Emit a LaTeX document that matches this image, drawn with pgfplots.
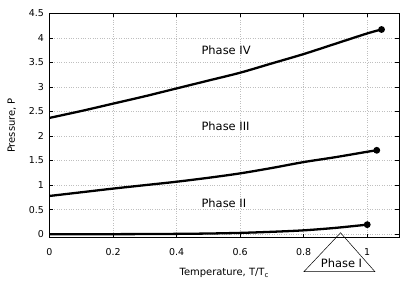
\documentclass[border=0pt]{standalone}
\usepackage{pgfplots}
\pgfplotsset{compat=1.18}
\usepackage{fontspec}
\setmainfont{DejaVu Sans}
\begin{document}
\begin{tikzpicture}
\begin{axis}[
  name=ax,
  scale only axis,
  width=349.5bp, height=224.4bp,
  xmin=0, xmax=1.1, ymin=-0.07, ymax=4.5,
  xtick={0,0.2,0.4,0.6,0.8,1},
  xticklabels={0,0.2,0.4,0.6,0.8,1},
  ytick={0,0.5,1,1.5,2,2.5,3,3.5,4,4.5},
  yticklabels={0,0.5,1,1.5,2,2.5,3,3.5,4,4.5},
  tick align=inside,
  major tick length=4bp,
  tick style={black, line width=0.6pt},
  axis line style={black, line width=0.8pt},
  grid=major,
  grid style={gray!50, line width=0.5pt, dash pattern=on 0.6pt off 1.8pt},
  xticklabel style={font=\fontsize{9.5}{11}\selectfont, yshift=-7bp},
  yticklabel style={font=\fontsize{9.5}{11}\selectfont, xshift=-2bp},
  xlabel={Temperature, T/T\textsubscript{c}},
  ylabel={Pressure, P},
  xlabel style={font=\fontsize{9.5}{11}\selectfont},
  ylabel style={font=\fontsize{9.5}{11}\selectfont},
  every axis x label/.style={at={(axis description cs:0.5,-0.157)},anchor=center},
  every axis y label/.style={at={(axis description cs:-0.108,0.5)},rotate=90,anchor=center},
  clip=false,
]
% Phase IV boundary
\addplot[black, line width=2.3pt, smooth, mark=*, mark size=2.2pt, mark indices={12}] coordinates {
(0,2.37) (0.1,2.51) (0.2,2.66) (0.3,2.81) (0.4,2.97) (0.5,3.13) (0.6,3.29)
(0.7,3.48) (0.8,3.67) (0.9,3.88) (1.0,4.09) (1.045,4.17)};
% Phase III boundary
\addplot[black, line width=2.3pt, smooth, mark=*, mark size=2.2pt, mark indices={12}] coordinates {
(0,0.78) (0.1,0.855) (0.2,0.93) (0.3,1.0) (0.4,1.07) (0.5,1.15) (0.6,1.24)
(0.7,1.35) (0.8,1.47) (0.9,1.57) (1.0,1.68) (1.03,1.71)};
% Phase II boundary
\addplot[black, line width=2.3pt, smooth, mark=*, mark size=2.2pt, mark indices={11}] coordinates {
(0,0) (0.1,0.001) (0.2,0.002) (0.3,0.004) (0.4,0.008) (0.5,0.015) (0.6,0.028)
(0.7,0.05) (0.8,0.08) (0.9,0.13) (1.0,0.196)};
\node[anchor=west, font=\fontsize{11.5}{13}\selectfont, inner sep=0pt] at (axis cs:0.478,3.74) {Phase IV};
\node[anchor=west, font=\fontsize{11.5}{13}\selectfont, inner sep=0pt] at (axis cs:0.478,2.19) {Phase III};
\node[anchor=west, font=\fontsize{11.5}{13}\selectfont, inner sep=0pt] at (axis cs:0.478,0.63) {Phase II};
\draw[black, line width=0.5pt] (axis cs:0.916,0.03) -- (axis cs:0.801,-0.76) -- (axis cs:1.024,-0.76) -- cycle;
\node[font=\fontsize{11.5}{13}\selectfont, inner sep=0pt] at (axis cs:0.919,-0.59) {Phase I};
\end{axis}
\pgfresetboundingbox
\path[use as bounding box] ([xshift=-49.5bp,yshift=-43.3bp]ax.south west) rectangle ++(417bp,281bp);
\end{tikzpicture}
\end{document}
